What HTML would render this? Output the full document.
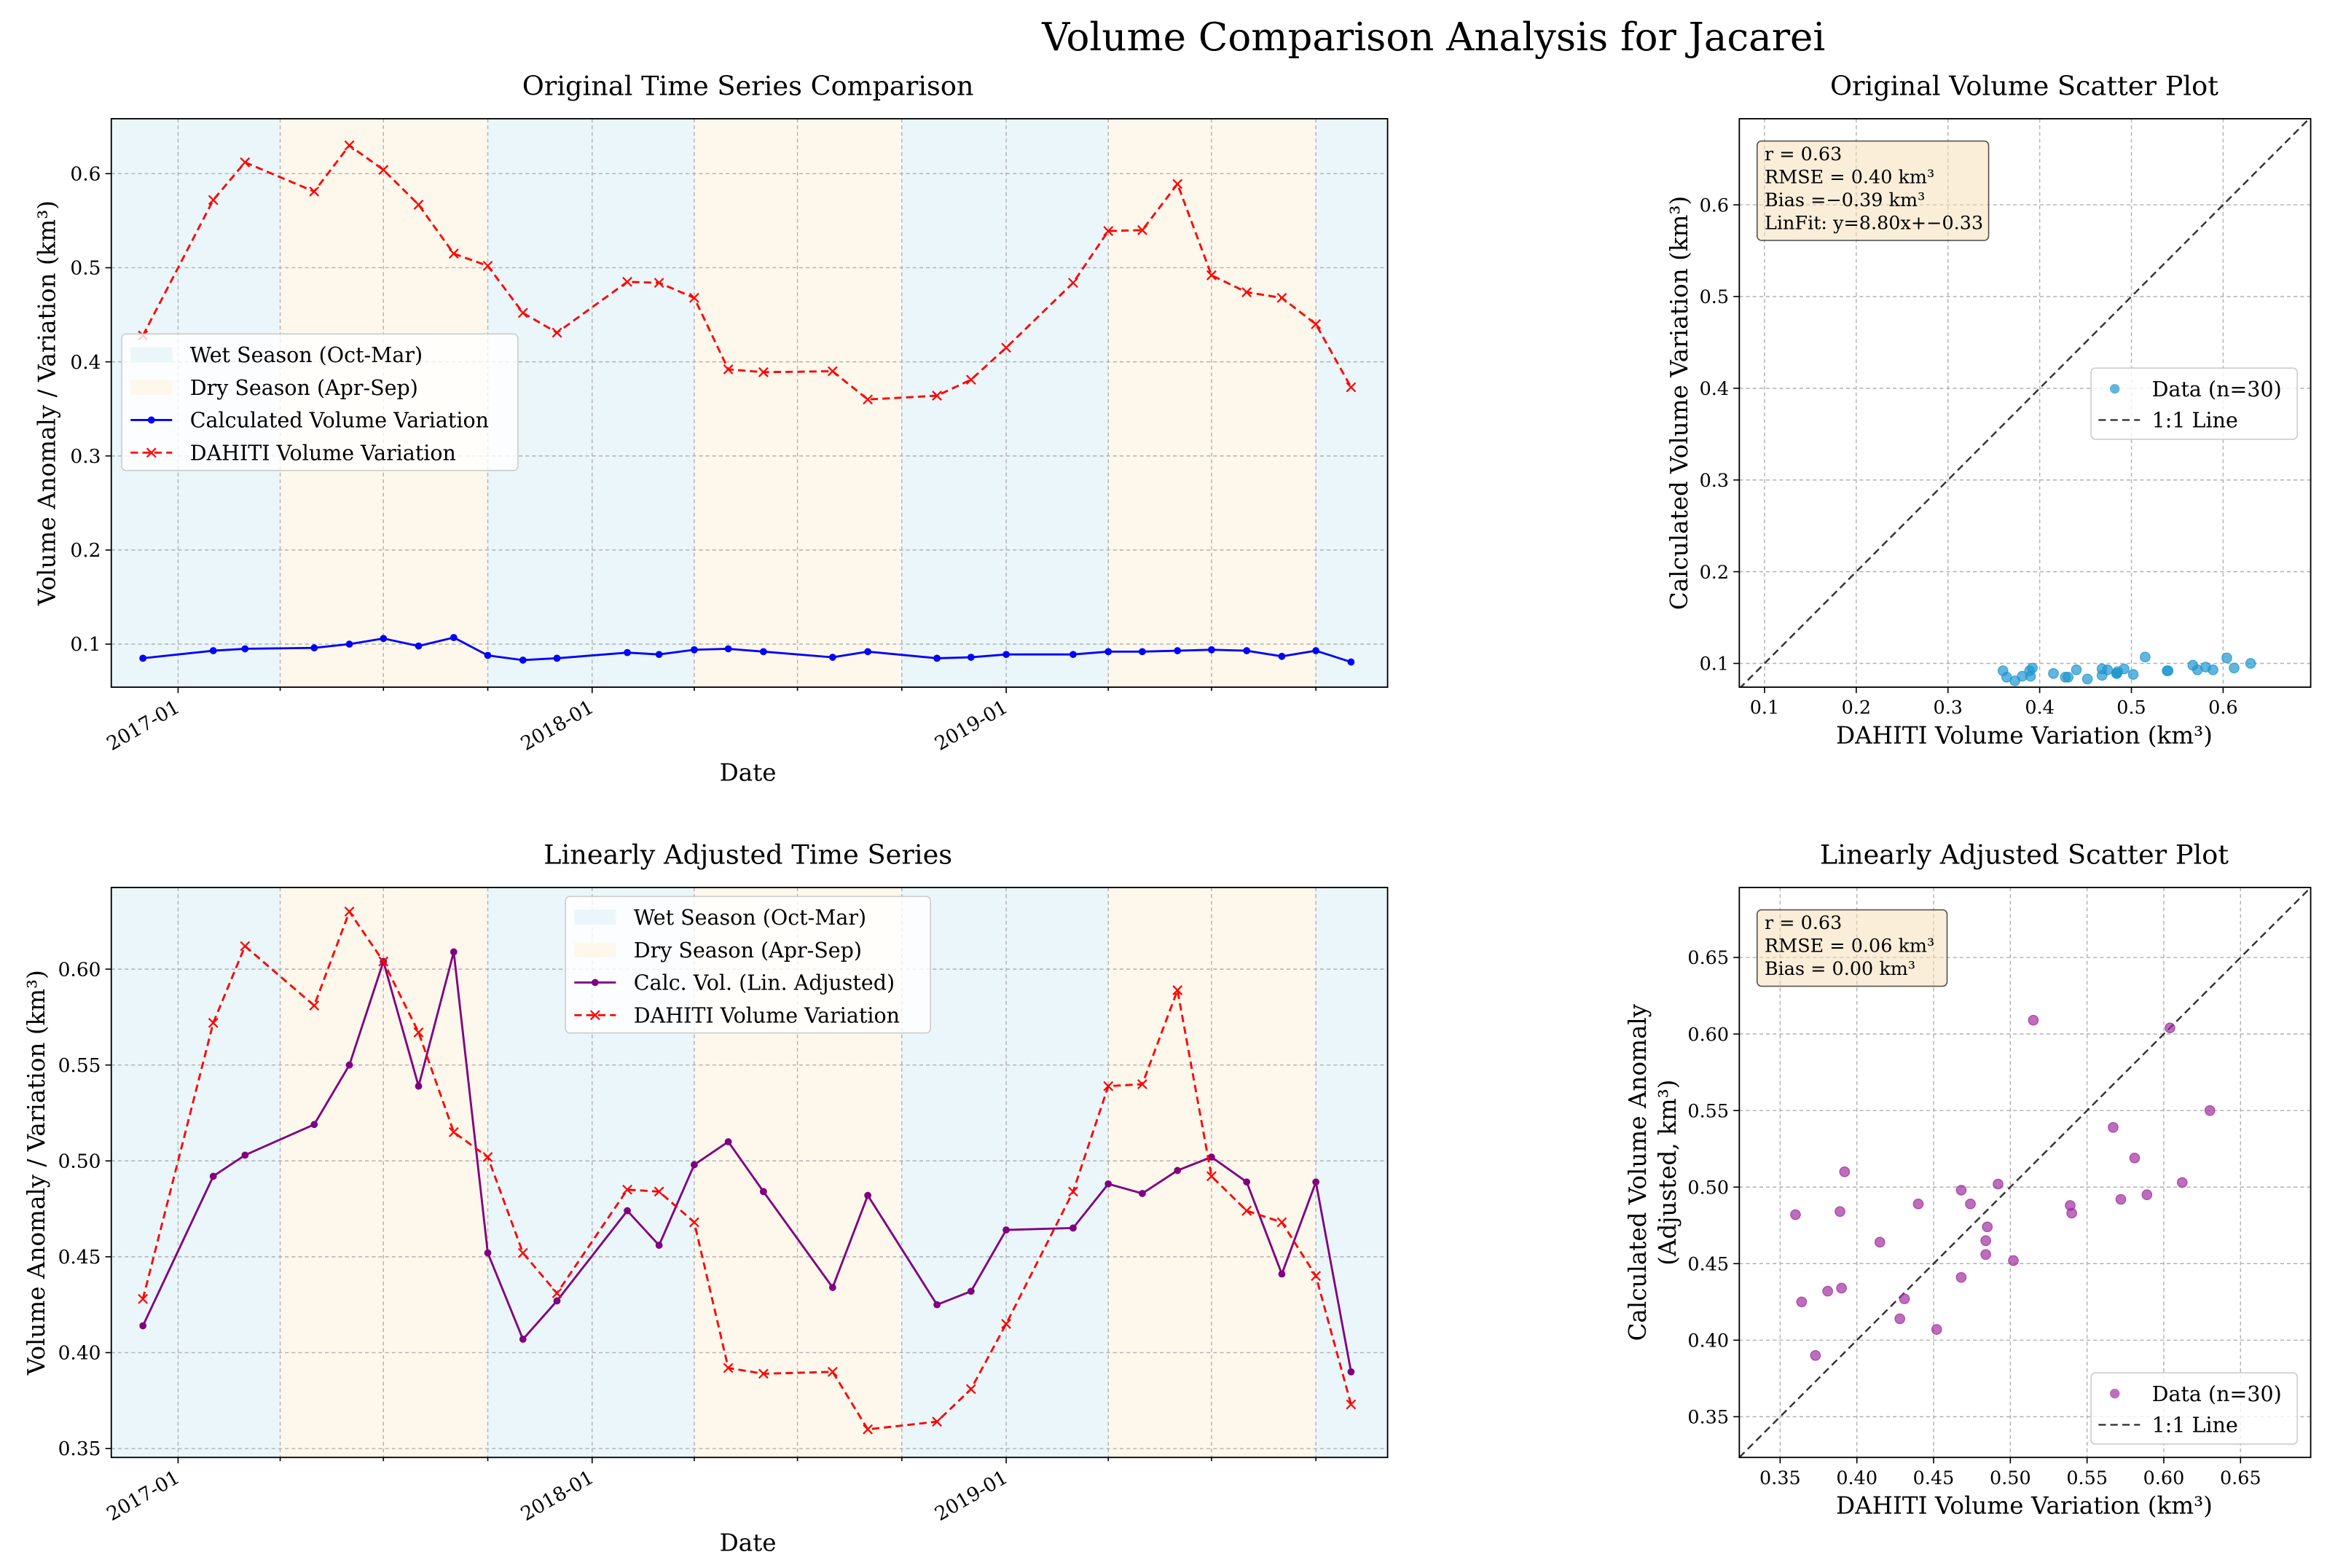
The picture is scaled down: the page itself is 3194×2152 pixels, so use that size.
<!DOCTYPE html>
<html><head><meta charset="utf-8"><style>
html,body{margin:0;padding:0;background:#fff;}
svg{display:block;font-family:"DejaVu Serif","Liberation Serif",serif;}
</style></head><body>
<svg id="fig" xmlns="http://www.w3.org/2000/svg" width="3194" height="2152" viewBox="0 0 1568 1056.5" preserveAspectRatio="none">
<text x="966" y="34" font-size="26" text-anchor="middle">Volume Comparison Analysis for Jacarei</text>
</svg>
<script>
const dates = ["2016-12-01","2017-02-01","2017-03-01","2017-05-01","2017-06-01","2017-07-01","2017-08-01","2017-09-01","2017-10-01","2017-11-01","2017-12-01","2018-02-01","2018-03-01","2018-04-01","2018-05-01","2018-06-01","2018-08-01","2018-09-01","2018-11-01","2018-12-01","2019-01-01","2019-03-01","2019-04-01","2019-05-01","2019-06-01","2019-07-01","2019-08-01","2019-09-01","2019-10-01","2019-11-01"];
const dahiti = [0.428,0.572,0.612,0.581,0.630,0.604,0.567,0.515,0.502,0.452,0.431,0.485,0.484,0.468,0.392,0.389,0.390,0.360,0.364,0.381,0.415,0.484,0.539,0.540,0.589,0.492,0.474,0.468,0.440,0.373];
const calcOrig = [0.085,0.093,0.095,0.096,0.100,0.106,0.098,0.107,0.088,0.083,0.085,0.091,0.089,0.094,0.095,0.092,0.086,0.092,0.085,0.086,0.089,0.089,0.092,0.092,0.093,0.094,0.093,0.087,0.093,0.081];
const calcAdj = [0.414,0.492,0.503,0.519,0.550,0.604,0.539,0.609,0.452,0.407,0.427,0.474,0.456,0.498,0.510,0.484,0.434,0.482,0.425,0.432,0.464,0.465,0.488,0.483,0.495,0.502,0.489,0.441,0.489,0.390];
const yTicksTop = [0.1,0.2,0.3,0.4,0.5,0.6];
const yTicksBot = [0.35,0.40,0.45,0.50,0.55,0.60];
const xDateTicks = ["2017-01-01","2018-01-01","2019-01-01"];
const scTicksTop = [0.1,0.2,0.3,0.4,0.5,0.6];
const scXTicksBot = [0.35,0.40,0.45,0.50,0.55,0.60,0.65];
const scYTicksBot = [0.35,0.40,0.45,0.50,0.55,0.60,0.65];

const NS="http://www.w3.org/2000/svg";
const svg=document.getElementById('fig');
function mk(tag,attrs,parent){const e=document.createElementNS(NS,tag);for(const k in attrs)e.setAttribute(k,attrs[k]);(parent||svg).appendChild(e);return e;}
function txt(s,attrs,parent){const e=mk('text',attrs,parent);e.textContent=s;return e;}
const DAY=86400000, T0=Date.UTC(2017,0,1);
function dnum(s){const p=s.split('-');return (Date.UTC(+p[0],+p[1]-1,+p[2])-T0)/DAY;}
function fmt(v,d){return v.toFixed(d);}

function timePanel(top,bottom,ymin,ymax,yTicks,dec,series,legendBox,title,ylabX,panelName){
  const L=75,R=935;
  const xs=d=>120+dnum(d)*279/365;
  const ys=v=>bottom-(v-ymin)/(ymax-ymin)*(bottom-top);
  const g=mk('g',{});
  
  
  const bounds=["2016-10-01","2017-04-01","2017-10-01","2018-04-01","2018-10-01","2019-04-01","2019-10-01","2020-04-01"];
  for(let i=0;i<bounds.length-1;i++){
    const x1=Math.max(L,xs(bounds[i])),x2=Math.min(R,xs(bounds[i+1]));
    const b=mk('rect',{x:x1,y:top,width:x2-x1,height:bottom-top,fill:i%2==0?'#eaf6fa':'#fef7ec'},g);
    
    
  }
  const gq=["2017-01-01","2017-04-01","2017-07-01","2017-10-01","2018-01-01","2018-04-01","2018-07-01","2018-10-01","2019-01-01","2019-04-01","2019-07-01","2019-10-01"];
  gq.forEach(d=>mk('line',{x1:xs(d),x2:xs(d),y1:top,y2:bottom,stroke:'#b0b0b0','stroke-width':0.7,'stroke-dasharray':'2.5,2'},g));
  yTicks.forEach(v=>{
    mk('line',{x1:L,x2:R,y1:ys(v),y2:ys(v),stroke:'#b0b0b0','stroke-width':0.7,'stroke-dasharray':'2.5,2'},g);
    mk('line',{x1:L-4,x2:L,y1:ys(v),y2:ys(v),stroke:'#000','stroke-width':0.8},g);
    const t=txt(fmt(v,dec),{x:L-7,y:ys(v)+4.5,'font-size':13,'text-anchor':'end'},g);
    
    
  });
  gq.forEach(d=>mk('line',{x1:xs(d),x2:xs(d),y1:bottom,y2:bottom+(xDateTicks.includes(d)?4:2.5),stroke:'#000','stroke-width':0.8},g));
  xDateTicks.forEach(d=>{
    const x=xs(d);
    const t=txt(d.slice(0,7),{x:0,y:0,'font-size':13,'text-anchor':'end',transform:`translate(${x+2},${bottom+16}) rotate(-30)`},g);
    
    
  });
  series.forEach(s=>{
    const pts=s.vals.map((v,i)=>xs(dates[i]).toFixed(2)+','+ys(v).toFixed(2)).join(' ');
    const pl=mk('polyline',{points:pts,fill:'none',stroke:s.color,'stroke-width':1.4,'stroke-dasharray':s.dash||'none'},g);
    
    
    s.vals.forEach((v,i)=>{
      const x=xs(dates[i]),y=ys(v);
      if(s.marker==='x'){
        const m=mk('path',{d:`M${x-3},${y-3}L${x+3},${y+3}M${x-3},${y+3}L${x+3},${y-3}`,stroke:s.color,'stroke-width':1.1},g);
        
        
      } else {
        const m=mk('circle',{cx:x,cy:y,r:2.4,fill:s.color},g);
        
        
      }
    });
  });
  mk('rect',{x:L,y:top,width:R-L,height:bottom-top,fill:'none',stroke:'#000','stroke-width':0.9},g);
  const ti=txt(title,{x:504,y:top-16,'font-size':18,'text-anchor':'middle'},g);
  
  
  const xl=txt('Date',{x:504,y:bottom+63,'font-size':16,'text-anchor':'middle'},g);
  
  
  const cy=(top+bottom)/2;
  const yl=txt('Volume Anomaly / Variation (km³)',{x:0,y:0,'font-size':16,'text-anchor':'middle',transform:`translate(${ylabX},${cy}) rotate(-90)`},g);
  
  
  const lb=legendBox;
  const lg=mk('g',{},g);
  
  
  mk('rect',{x:lb.x,y:lb.y,width:lb.w,height:92,rx:3,fill:'#fff','fill-opacity':0.8,stroke:'#ccc','stroke-width':0.8},lg);
  const items=[{t:'Wet Season (Oct-Mar)',k:'patch',c:'#eaf6fa'},{t:'Dry Season (Apr-Sep)',k:'patch',c:'#fef7ec'}].concat(series.map(s=>({t:s.label,k:s.marker,c:s.color,dash:s.dash})));
  items.forEach((it,i)=>{
    const y=lb.y+14+i*22;
    const e=mk('g',{},lg);
    
    
    if(it.k==='patch') mk('rect',{x:lb.x+6,y:y-5,width:28,height:10,fill:it.c},e);
    else{
      mk('line',{x1:lb.x+6,x2:lb.x+34,y1:y,y2:y,stroke:it.c,'stroke-width':1.4,'stroke-dasharray':it.dash||'none'},e);
      if(it.k==='x') mk('path',{d:`M${lb.x+17},${y-3}L${lb.x+23},${y+3}M${lb.x+17},${y+3}L${lb.x+23},${y-3}`,stroke:it.c,'stroke-width':1.1},e);
      else mk('circle',{cx:lb.x+20,cy:y,r:2.4,fill:it.c},e);
    }
    txt(it.t,{x:lb.x+46,y:y+5,'font-size':14},e);
  });
}

timePanel(80,463,0.1-29/634,0.6+37/634,yTicksTop,1,
  [{vals:calcOrig,color:'#0000ff',marker:'o',name:'calculated-volume',label:'Calculated Volume Variation'},
   {vals:dahiti,color:'#ff0000',marker:'x',dash:'5,3',name:'dahiti-volume',label:'DAHITI Volume Variation'}],
  {x:82,y:225,w:267},'Original Time Series Comparison',37,'original-time-series-panel');
timePanel(598,982,0.35-6/1292,0.60+55/1292,yTicksBot,2,
  [{vals:calcAdj,color:'#800080',marker:'o',name:'calc-adjusted',label:'Calc. Vol. (Lin. Adjusted)'},
   {vals:dahiti,color:'#ff0000',marker:'x',dash:'5,3',name:'dahiti-volume',label:'DAHITI Volume Variation'}],
  {x:381,y:604,w:246},'Linearly Adjusted Time Series',30,'adjusted-time-series-panel');

function scatterPanel(top,bottom,xmin,xmax,ymin,ymax,xt,yt,xv,yv,color,title,ylabs,ann,annW,panelName,decs){
  const L=1172,R=1557;
  const xs=v=>L+(v-xmin)/(xmax-xmin)*(R-L);
  const ys=v=>bottom-(v-ymin)/(ymax-ymin)*(bottom-top);
  const g=mk('g',{});
  
  
  xt.forEach(v=>{
    mk('line',{x1:xs(v),x2:xs(v),y1:top,y2:bottom,stroke:'#b0b0b0','stroke-width':0.7,'stroke-dasharray':'2.5,2'},g);
    mk('line',{x1:xs(v),x2:xs(v),y1:bottom,y2:bottom+4,stroke:'#000','stroke-width':0.8},g);
    const t=txt(fmt(v,decs),{x:xs(v),y:bottom+18,'font-size':12.5,'text-anchor':'middle'},g);
    
    
  });
  yt.forEach(v=>{
    mk('line',{x1:L,x2:R,y1:ys(v),y2:ys(v),stroke:'#b0b0b0','stroke-width':0.7,'stroke-dasharray':'2.5,2'},g);
    mk('line',{x1:L-4,x2:L,y1:ys(v),y2:ys(v),stroke:'#000','stroke-width':0.8},g);
    const t=txt(fmt(v,decs),{x:L-7,y:ys(v)+4.5,'font-size':12.5,'text-anchor':'end'},g);
    
    
  });
  const cp=mk('clipPath',{id:'cp'+panelName},g);
  mk('rect',{x:L,y:top,width:R-L,height:bottom-top},cp);
  const lo=Math.min(xmin,ymin),hi=Math.max(xmax,ymax);
  const dl=mk('line',{x1:xs(lo),y1:ys(lo),x2:xs(hi),y2:ys(hi),stroke:'#333','stroke-width':1.2,'stroke-dasharray':'5,3','clip-path':'url(#cp'+panelName+')'},g);
  
  
  xv.forEach((v,i)=>{
    const c=mk('circle',{cx:xs(v),cy:ys(yv[i]),r:3.3,fill:color,'fill-opacity':0.7,stroke:color,'stroke-opacity':0.8,'stroke-width':0.6},g);
    
    
  });
  mk('rect',{x:L,y:top,width:R-L,height:bottom-top,fill:'none',stroke:'#000','stroke-width':0.9},g);
  const ti=txt(title,{x:1364,y:top-16,'font-size':18,'text-anchor':'middle'},g);
  
  
  const xl=txt('DAHITI Volume Variation (km³)',{x:1364,y:bottom+38,'font-size':16,'text-anchor':'middle'},g);
  
  
  const cy=(top+bottom)/2;
  ylabs.forEach(s=>{
    const yl=txt(s.t,{x:0,y:0,'font-size':16,'text-anchor':'middle',transform:`translate(${s.x},${cy}) rotate(-90)`},g);
    
    
  });
  const an=mk('g',{},g);
  
  
  mk('rect',{x:1184,y:top+15,width:annW,height:ann.length*15.5+5,rx:3,fill:'#f5deb3','fill-opacity':0.5,stroke:'#555','stroke-width':0.8},an);
  ann.forEach((s,i)=>txt(s,{x:1189,y:top+28+i*15.5,'font-size':12.5},an));
  const ly=(panelName==='original-scatter-panel')?248:925;
  const lg=mk('g',{},g);
  
  
  mk('rect',{x:1409,y:ly,width:139,height:48,rx:3,fill:'#fff','fill-opacity':0.8,stroke:'#ccc','stroke-width':0.8},lg);
  const e1=mk('g',{},lg);
  
  
  mk('circle',{cx:1425,cy:ly+14,r:3.3,fill:color,'fill-opacity':0.7},e1);
  txt('Data (n='+xv.length+')',{x:1450,y:ly+19,'font-size':14},e1);
  const e2=mk('g',{},lg);
  
  
  mk('line',{x1:1414,x2:1442,y1:ly+35,y2:ly+35,stroke:'#333','stroke-width':1.2,'stroke-dasharray':'5,3'},e2);
  txt('1:1 Line',{x:1450,y:ly+40,'font-size':14},e2);
}

scatterPanel(80,463,0.1-17/618,0.6+59/618,0.1-16/618,0.6+58/618,scTicksTop,scTicksTop,dahiti,calcOrig,'#1f97d0',
  'Original Volume Scatter Plot',[{t:'Calculated Volume Variation (km³)',x:1137}],
  ['r = 0.63','RMSE = 0.40 km³','Bias =−0.39 km³','LinFit: y=8.80x+−0.33'],156,'original-scatter-panel',1);
scatterPanel(598,982,0.3234,0.6957,0.3234,0.6957,scXTicksBot,scYTicksBot,dahiti,calcAdj,'#a0309f',
  'Linearly Adjusted Scatter Plot',[{t:'Calculated Volume Anomaly',x:1109},{t:'(Adjusted, km³)',x:1129}],
  ['r = 0.63','RMSE = 0.06 km³','Bias = 0.00 km³'],128,'adjusted-scatter-panel',2);
</script>
</body></html>
